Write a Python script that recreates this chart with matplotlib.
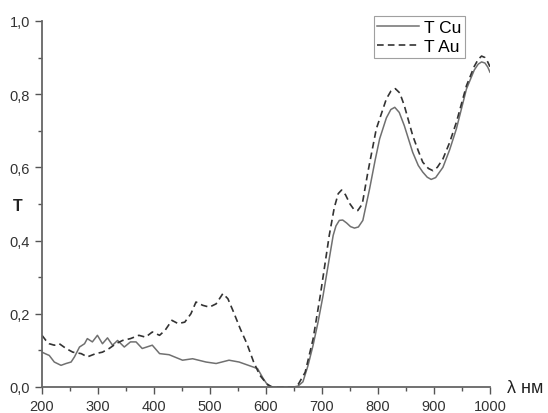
import matplotlib.pyplot as plt
from matplotlib.ticker import MultipleLocator, FuncFormatter

plt.rcParams["font.family"] = ["Liberation Sans", "DejaVu Sans"]

# Transmission spectra
wl_cu = [200, 207, 213, 222, 234, 243, 252, 258, 267, 276, 281, 290, 299, 308,
         317, 326, 335, 347, 358, 368, 379, 397, 410, 427, 451, 469, 493, 511,
         534, 552, 576, 585, 595, 603, 612, 630, 650, 657, 666, 675, 684, 693,
         702, 711, 720, 725, 731, 737, 744, 751, 758, 765, 773, 785, 795, 803,
         815, 823, 830, 838, 847, 862, 872, 880, 888, 895, 903, 916, 928, 940,
         958, 972, 979, 985, 991, 996, 1000]
t_cu = [0.095, 0.090, 0.086, 0.068, 0.059, 0.064, 0.068, 0.082, 0.109, 0.118,
        0.132, 0.123, 0.141, 0.118, 0.134, 0.114, 0.127, 0.109, 0.123, 0.123,
        0.105, 0.114, 0.091, 0.088, 0.073, 0.077, 0.068, 0.064, 0.073, 0.068,
        0.055, 0.050, 0.023, 0.005, 0.0, 0.0, 0.0, 0.002, 0.014, 0.058, 0.113,
        0.177, 0.250, 0.332, 0.414, 0.440, 0.455, 0.456, 0.448, 0.438, 0.434,
        0.437, 0.455, 0.541, 0.620, 0.678, 0.735, 0.758, 0.764, 0.750, 0.714,
        0.641, 0.605, 0.587, 0.573, 0.567, 0.572, 0.600, 0.648, 0.705, 0.814,
        0.866, 0.882, 0.888, 0.885, 0.874, 0.860]

wl_au = [200, 207, 213, 222, 231, 243, 255, 270, 281, 296, 308, 320, 332, 344,
         358, 373, 385, 397, 410, 420, 432, 443, 455, 466, 475, 487, 499, 511,
         523, 532, 542, 554, 566, 578, 589, 601, 610, 630, 650, 658, 670, 684,
         697, 713, 722, 729, 735, 742, 750, 757, 764, 772, 782, 797, 815, 823,
         831, 839, 847, 862, 872, 880, 890, 898, 906, 916, 928, 940, 958, 972,
         979, 985, 991, 996, 1000]
t_au = [0.141, 0.127, 0.118, 0.114, 0.118, 0.105, 0.095, 0.091, 0.082, 0.091,
        0.095, 0.105, 0.118, 0.127, 0.132, 0.141, 0.136, 0.150, 0.141, 0.155,
        0.182, 0.173, 0.177, 0.200, 0.232, 0.223, 0.218, 0.227, 0.255, 0.241,
        0.205, 0.159, 0.118, 0.068, 0.032, 0.009, 0.0, 0.0, 0.0, 0.008, 0.040,
        0.130, 0.250, 0.414, 0.490, 0.528, 0.538, 0.525, 0.500, 0.485, 0.482,
        0.500, 0.587, 0.705, 0.787, 0.808, 0.815, 0.803, 0.769, 0.687, 0.645,
        0.614, 0.597, 0.591, 0.600, 0.623, 0.668, 0.723, 0.823, 0.876, 0.895,
        0.904, 0.900, 0.888, 0.875]

fig = plt.figure(figsize=(5.48, 4.14), dpi=100)
ax = fig.add_axes([0.0766, 0.063, 0.8175, 0.884])

ax.plot(wl_cu, t_cu, color="#707070", lw=1.1, label="T Cu")
ax.plot(wl_au, t_au, color="#333333", lw=1.2, ls=(0, (4, 2.5)), label="T Au")

ax.set_xlim(200, 1000)
ax.set_ylim(0, 1.0)
ax.xaxis.set_major_locator(MultipleLocator(100))
ax.xaxis.set_minor_locator(MultipleLocator(50))
ax.yaxis.set_major_locator(MultipleLocator(0.2))
ax.yaxis.set_minor_locator(MultipleLocator(0.1))
ax.yaxis.set_major_formatter(FuncFormatter(lambda v, p: f"{v:.1f}".replace(".", ",")))

for side in ["top", "right"]:
    ax.spines[side].set_visible(False)
for side in ["left", "bottom"]:
    ax.spines[side].set_color("#666666")
    ax.spines[side].set_linewidth(1.3)
ax.tick_params(which="both", direction="out", colors="#555555", labelcolor="#333333",
               labelsize=10.5, width=1.0)
ax.tick_params(which="major", length=5)
ax.tick_params(which="minor", length=3)

fig.text(0.033, 0.502, "T", fontsize=11.5, fontweight="bold", color="#222222",
         ha="center", va="center")
fig.text(0.925, 0.062, "λ нм", fontsize=13, color="#222222", va="center")

leg = ax.legend(loc="upper right", bbox_to_anchor=(0.9445, 1.0125), handlelength=2.4,
                fontsize=12.5, frameon=True, fancybox=False, borderpad=0.2,
                labelspacing=0.25, handletextpad=0.3, borderaxespad=0)
leg.get_frame().set_edgecolor("#888888")
leg.get_frame().set_linewidth(0.8)

fig.savefig("out.png", dpi=100)
